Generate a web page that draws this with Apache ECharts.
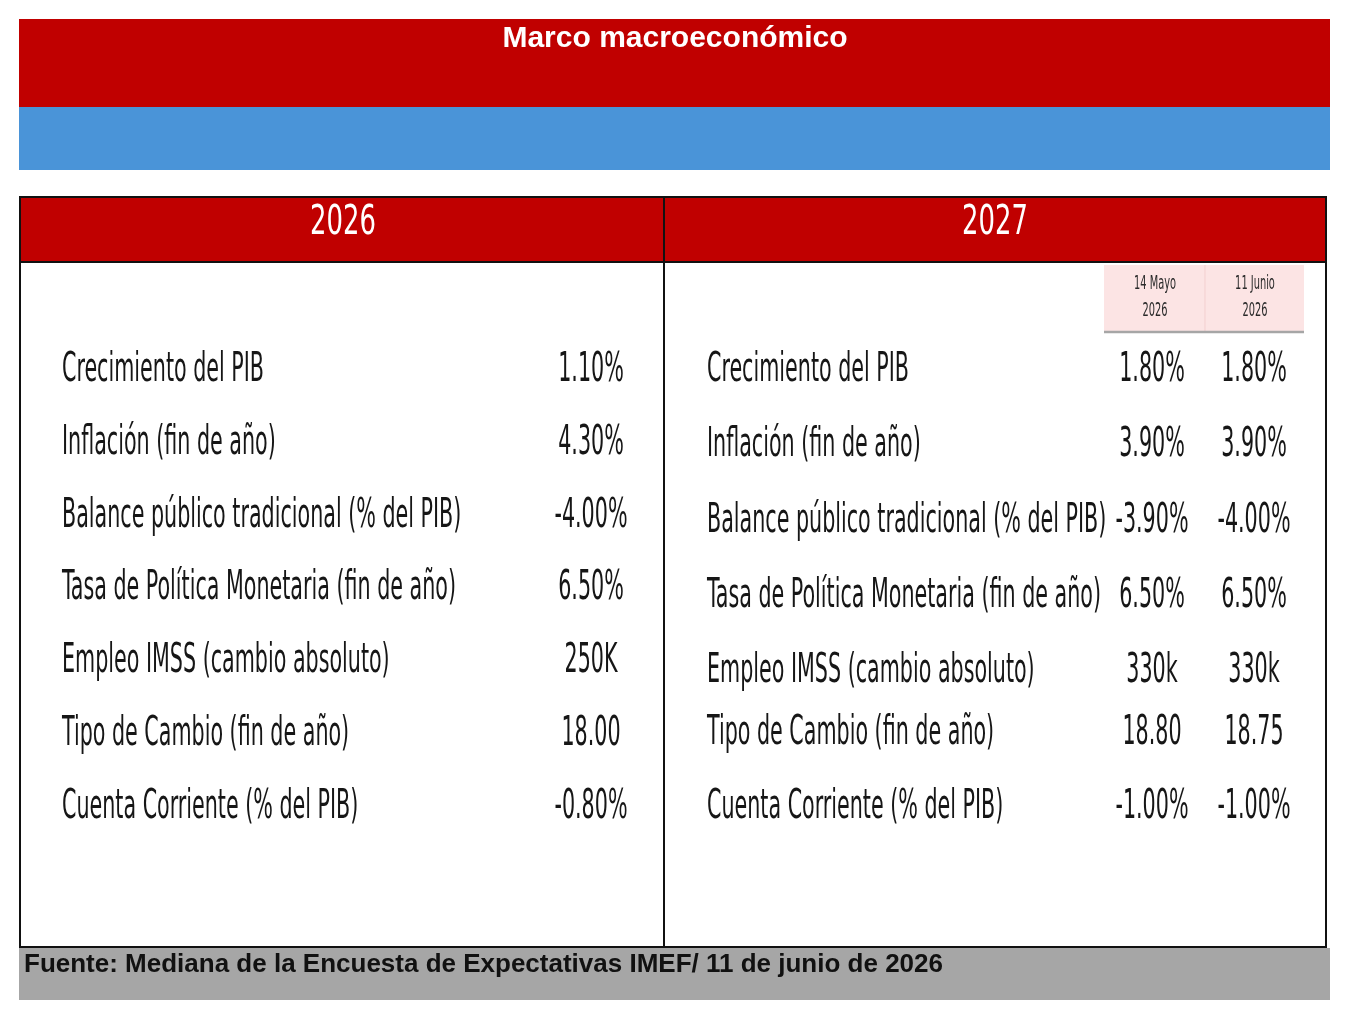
<!DOCTYPE html>
<html>
<head>
<meta charset="utf-8">
<script src="https://cdn.jsdelivr.net/npm/echarts@6/dist/echarts.min.js"></script>
<style>html,body{margin:0;padding:0;background:#fff;}#c{width:1353px;height:1026px;}</style>
</head>
<body>
<div id="c"></div>
<script>
// ---- Data ----
const titulo = 'Marco macroeconómico';
const anios = ['2026', '2027'];
const fechas27 = ['14 Mayo\n2026', '11 Junio\n2026'];
const indicadores26 = ['Crecimiento del PIB', 'Inflación (fin de año)', 'Balance público tradicional (% del PIB)', 'Tasa de Política Monetaria (fin de año)', 'Empleo IMSS (cambio absoluto)', 'Tipo de Cambio (fin de año)', 'Cuenta Corriente (% del PIB)'];
const valores26 = ['1.10%', '4.30%', '-4.00%', '6.50%', '250K', '18.00', '-0.80%'];
const indicadores27 = ['Crecimiento del PIB', 'Inflación (fin de año)', 'Balance público tradicional (% del PIB)', 'Tasa de Política Monetaria (fin de año)', 'Empleo IMSS (cambio absoluto)', 'Tipo de Cambio (fin de año)', 'Cuenta Corriente (% del PIB)'];
const mayo27 = ['1.80%', '3.90%', '-3.90%', '6.50%', '330k', '18.80', '-1.00%'];
const junio27 = ['1.80%', '3.90%', '-4.00%', '6.50%', '330k', '18.75', '-1.00%'];
const fuente = 'Fuente: Mediana de la Encuesta de Expectativas IMEF/ 11 de junio de 2026';

// ---- Layout (not data) ----
const colX = [62, 591, 707, 1152, 1254];
const colAlign = ['left', 'center', 'left', 'center', 'center'];
const rowShift27 = [0, 2, 5, 8, 10, -1, 0]; // small pixel nudges of the right-hand table rows
const RED = '#C00000', BLUE = '#4A94D8', GREY = '#A6A6A6';
const COND = '"DejaVu Sans Condensed", "Liberation Sans Narrow", sans-serif';
const SANS = '"Liberation Sans", Arial, sans-serif';

const columnas = [indicadores26, valores26, indicadores27, mayo27, junio27];
const celdas = [];
columnas.forEach((arr, c) => arr.forEach((t, r) => celdas.push({ value: [c, r], texto: t })));
const filas = indicadores26.map((_, i) => 'f' + i);

function txt(x, y, text, font, fill, align, extra) {
  return Object.assign({ type: 'text', x: x, y: y, z: 2, style: { text: text, fill: fill, font: font, align: align, verticalAlign: 'middle', textAlign: align, textVerticalAlign: 'middle' } }, extra || {});
}

const fechaTextos = [];
fechas27.forEach((f, i) => {
  f.split('\n').forEach((linea, j) => {
    fechaTextos.push(txt(1155 + i * 100, 284 + j * 27, linea, '13.5px ' + COND, '#2a2a2a', 'center', { scaleY: 1.45, scaleX: 0.81 }));
  });
});

const chart = echarts.init(document.getElementById('c'), null, { renderer: 'canvas' });
chart.setOption({
  animation: false,
  backgroundColor: '#fff',
  grid: { left: 0, right: 0, top: 334, height: 509.6 },
  xAxis: { type: 'value', min: 0, max: 1353, show: false },
  yAxis: { type: 'category', data: filas, inverse: true, show: false },
  graphic: [
    { type: 'rect', shape: { x: 19, y: 19, width: 1311, height: 88 }, style: { fill: RED }, z: 1 },
    { type: 'rect', shape: { x: 19, y: 107, width: 1311, height: 63 }, style: { fill: BLUE }, z: 1 },
    txt(675, 39, titulo, 'bold 30px ' + SANS, '#fff', 'center', { scaleY: 1.0 }),
    { type: 'rect', shape: { x: 20, y: 197, width: 1306, height: 65 }, style: { fill: RED }, z: 1 },
    txt(343, 223, anios[0], '36px ' + COND, '#fff', 'center', { scaleY: 1.15, scaleX: 0.8 }),
    txt(995, 223, anios[1], '36px ' + COND, '#fff', 'center', { scaleY: 1.15, scaleX: 0.8 }),
    { type: 'rect', shape: { x: 1104, y: 265, width: 200, height: 67 }, style: { fill: '#FCE4E4' }, z: 1 },
    { type: 'line', shape: { x1: 1205, y1: 265, x2: 1205, y2: 331 }, style: { stroke: '#F3CFCF', lineWidth: 1 }, z: 2 },
    { type: 'line', shape: { x1: 1104, y1: 332, x2: 1304, y2: 332 }, style: { stroke: '#A6A6A6', lineWidth: 2.5 }, z: 2 }
  ].concat(fechaTextos).concat([
    { type: 'rect', shape: { x: 20, y: 197, width: 1306, height: 750 }, style: { fill: 'none', stroke: '#111', lineWidth: 2 }, z: 3 },
    { type: 'line', shape: { x1: 20, y1: 262, x2: 1326, y2: 262 }, style: { stroke: '#111', lineWidth: 2 }, z: 3 },
    { type: 'line', shape: { x1: 664, y1: 197, x2: 664, y2: 947 }, style: { stroke: '#111', lineWidth: 2 }, z: 3 },
    { type: 'rect', shape: { x: 19, y: 948, width: 1311, height: 52 }, style: { fill: GREY }, z: 1 },
    txt(24, 965, fuente, 'bold 26px ' + SANS, '#111', 'left')
  ]),
  series: [{
    type: 'custom',
    coordinateSystem: 'cartesian2d',
    data: celdas,
    renderItem: function (params, api) {
      const c = api.value(0), r = api.value(1);
      const p = api.coord([colX[c], r]);
      const t = celdas[params.dataIndex].texto;
      const dy = c >= 2 ? rowShift27[r] : 0;
      return {
        type: 'text', x: p[0], y: p[1] + dy, scaleY: 1.45, scaleX: 0.82,
        style: { text: t, fill: '#161616', font: '28px ' + COND, align: colAlign[c], verticalAlign: 'middle', textAlign: colAlign[c], textVerticalAlign: 'middle' }
      };
    }
  }]
});
</script>
</body>
</html>
